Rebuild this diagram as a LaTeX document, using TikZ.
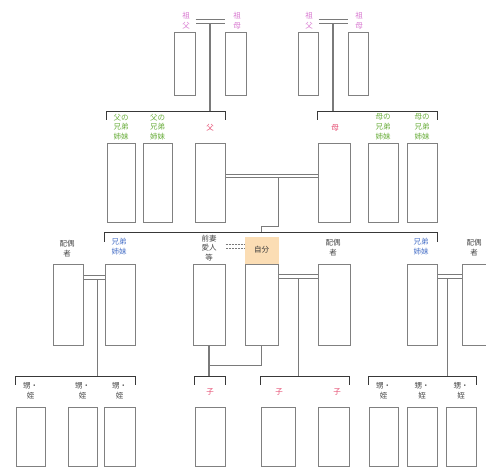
\documentclass[tikz,border=0pt]{standalone}
\usepackage{fontspec}
\setmainfont{Noto Sans CJK JP}
\usetikzlibrary{calc}
\definecolor{boxc}{HTML}{808080}
\definecolor{lnc}{HTML}{7A7A7A}
\definecolor{brkc}{HTML}{383838}
\definecolor{gpc}{HTML}{D877D0}
\definecolor{grc}{HTML}{6AAE3C}
\definecolor{rdc}{HTML}{E5486E}
\definecolor{blc}{HTML}{4A72C8}
\definecolor{txc}{HTML}{4A4A4A}
\definecolor{orbg}{HTML}{FBDDB4}
\tikzset{
  box/.style={draw=boxc, line width=1pt, inner sep=0pt},
  r1/.style={box, minimum height=62pt},
  r2/.style={box, minimum height=79pt},
  r3/.style={box, minimum height=81pt},
  r4/.style={box, minimum height=59pt},
  lbl/.style={align=center, inner sep=0pt, font=\fontsize{7.5}{9.8}\selectfont},
  ln/.style={draw=lnc, line width=1.1pt},
  brk/.style={draw=brkc, line width=1.6pt},
  marr/.style={draw=lnc, line width=0.8pt, double=white, double distance=2.6pt},
  marrd/.style={marr, dash pattern=on 2pt off 1pt},
}
\begin{document}
\begin{tikzpicture}[x=1pt,y=-1pt]
\useasboundingbox[fill=white] (0,0) rectangle (486,468);
% row 1
\node[r1, minimum width=21pt] (gf1) at (184.5,64) {};
\node[r1, minimum width=21pt] (gm1) at (235.5,64) {};
\node[r1, minimum width=20pt] (gf2) at (308,64) {};
\node[r1, minimum width=20pt] (gm2) at (358,64) {};
\node[lbl, text=gpc] (gf1l) at (186,21) {祖\\父};
\node[lbl, text=gpc] (gm1l) at (237,21) {祖\\母};
\node[lbl, text=gpc] (gf2l) at (309,21) {祖\\父};
\node[lbl, text=gpc] (gm2l) at (359,21) {祖\\母};
% row 2
\node[r2, minimum width=28pt] (fs1) at (121,182.5) {};
\node[r2, minimum width=29pt] (fs2) at (157.5,182.5) {};
\node[r2, minimum width=30pt] (f) at (210,182.5) {};
\node[r2, minimum width=32pt] (m) at (334,182.5) {};
\node[r2, minimum width=30pt] (ms1) at (383,182.5) {};
\node[r2, minimum width=30pt] (ms2) at (422,182.5) {};
\node[lbl, text=grc] (fs1l) at (121,127) {父の\\兄弟\\姉妹};
\node[lbl, text=grc] (fs2l) at (157.5,127) {父の\\兄弟\\姉妹};
\node[lbl, text=rdc] (fl) at (210,128) {父};
\node[lbl, text=rdc] (ml) at (335,128) {母};
\node[lbl, text=grc] (ms1l) at (383,127) {母の\\兄弟\\姉妹};
\node[lbl, text=grc] (ms2l) at (422,127) {母の\\兄弟\\姉妹};
% row 3
\node[r3, minimum width=30pt] (sp1) at (68,304.5) {};
\node[r3, minimum width=30pt] (sib1) at (120,304.5) {};
\node[r3, minimum width=32pt] (ex) at (209,304.5) {};
\node[r3, minimum width=33pt] (self) at (261.5,304.5) {};
\node[r3, minimum width=32pt] (sp2) at (334,304.5) {};
\node[r3, minimum width=30pt] (sib2) at (422,304.5) {};
\node[r3, minimum width=30pt] (sp3) at (477,304.5) {};
\node[lbl, text=txc] (sp1l) at (67,249) {配偶\\者};
\node[lbl, text=blc] (sib1l) at (119,247) {兄弟\\姉妹};
\node[lbl, text=txc] (exl) at (209,248) {前妻\\愛人\\等};
\node[lbl, fill=orbg, text=brkc, minimum width=34pt, minimum height=27pt] (selfl) at (261.5,250) {自分};
\node[lbl, text=txc] (sp2l) at (333,248) {配偶\\者};
\node[lbl, text=blc] (sib2l) at (421,247) {兄弟\\姉妹};
\node[lbl, text=txc] (sp3l) at (474,248) {配偶\\者};
% row 4
\node[r4, minimum width=29pt] (n1) at (30.5,436.5) {};
\node[r4, minimum width=29pt] (n2) at (82.5,436.5) {};
\node[r4, minimum width=31pt] (n3) at (119.5,436.5) {};
\node[r4, minimum width=30pt] (c1) at (210,436.5) {};
\node[r4, minimum width=34pt] (c2) at (278,436.5) {};
\node[r4, minimum width=31pt] (c3) at (333.5,436.5) {};
\node[r4, minimum width=29pt] (n4) at (383.5,436.5) {};
\node[r4, minimum width=30pt] (n5) at (422,436.5) {};
\node[r4, minimum width=30pt] (n6) at (461,436.5) {};
\node[lbl, text=txc] (n1l) at (30.5,391) {甥・\\姪};
\node[lbl, text=txc] (n2l) at (82.5,391) {甥・\\姪};
\node[lbl, text=txc] (n3l) at (119.5,391) {甥・\\姪};
\node[lbl, text=rdc] (c1l) at (210,392) {子};
\node[lbl, text=rdc] (c2l) at (279,392) {子};
\node[lbl, text=rdc] (c3l) at (337,392) {子};
\node[lbl, text=txc] (n4l) at (383.5,391) {甥・\\姪};
\node[lbl, text=txc] (n5l) at (422,391) {甥・\\姪};
\node[lbl, text=txc] (n6l) at (461,391) {甥・\\姪};

% bracket coordinates
\coordinate (bL) at ([yshift=31pt]f.north);
\coordinate (bR) at ([yshift=31pt]m.north);
\coordinate (bS) at ([yshift=31pt]self.north);
\coordinate (bN) at ([yshift=30pt]c1.north);

% grandparents couples
\coordinate (m1) at ($(gf1.north east)!.5!(gm1.north west)+(0,-11)$);
\coordinate (m2) at ($(gf2.north east)!.5!(gm2.north west)+(0,-11)$);
\draw[ln] ([yshift=-1.5pt]m1) -- (m1 |- bL);
\draw[ln] ([yshift=-1.5pt]m2) -- (m2 |- bR);
\draw[marr] (gf1.east |- m1) -- (gm1.west |- m1);
\draw[marr] (gf2.east |- m2) -- (gm2.west |- m2);

% row 2 brackets
\draw[brk] ([yshift=23pt]fs1.north west) -- ([yshift=31pt]fs1.north west) -- ([yshift=31pt]f.north east) -- ([yshift=23pt]f.north east);
\draw[brk] ([yshift=23pt]m.north west) -- ([yshift=31pt]m.north west) -- ([yshift=31pt]ms2.north east) -- ([yshift=23pt]ms2.north east);

% parents couple
\coordinate (mp) at ([yshift=6.5pt]f.east);
\coordinate (mpd) at ($(mp)+(53,1.5)$);
\draw[ln] (mpd) -- ($(mpd |- bS)+(0,-6)$) -- ($(self.north |- bS)+(0,-6)$) -- (self.north |- bS);
\draw[marr] (mp) -- (m.west |- mp);

% sibling bracket
\draw[brk] ([yshift=22pt]sib1.north west) -- ([yshift=31pt]sib1.north west) -- ([yshift=31pt]sib2.north east) -- ([yshift=22pt]sib2.north east);

% row 3 couples
\coordinate (ms1) at ([yshift=-14pt]sp1.north east);
\draw[ln] ($(ms1)+(14,1.5)$) -- ($(ms1 |- bN)+(14,0)$);
\draw[marr] (ms1) -- (sib1.west |- ms1);
\draw[marrd] ([yshift=17pt]ex.north east) -- ([yshift=17pt]self.north west);
\coordinate (ms2) at ([yshift=-13pt]self.north east);
\draw[ln] ($(ms2)+(20,1.5)$) -- ($(ms2 |- bN)+(20,0)$);
\draw[marr] (ms2) -- (sp2.west |- ms2);
\coordinate (ms3) at ([yshift=-13pt]sib2.north east);
\draw[ln] ($(ms3)+(10,1.5)$) -- ($(ms3 |- bN)+(10,0)$);
\draw[marr] (ms3) -- (sp3.west |- ms3);

% ex and self children
\draw[ln] (ex.south) -- (ex.south |- bN);
\draw[ln] ($(ex.south)+(0,20)$) -- ($(self.south)+(0,20)$) -- (self.south);

% row 4 brackets
\draw[brk] ([yshift=22pt]n1.north west) -- ([yshift=30pt]n1.north west) -- ([yshift=30pt]n3.north east) -- ([yshift=22pt]n3.north east);
\draw[brk] ([yshift=22pt]c1.north west) -- ([yshift=30pt]c1.north west) -- ([yshift=30pt]c1.north east) -- ([yshift=22pt]c1.north east);
\draw[brk] ([yshift=22pt]c2.north west) -- ([yshift=30pt]c2.north west) -- ([yshift=30pt]c3.north east) -- ([yshift=22pt]c3.north east);
\draw[brk] ([yshift=22pt]n4.north west) -- ([yshift=30pt]n4.north west) -- ([yshift=30pt]n6.north east) -- ([yshift=22pt]n6.north east);
\end{tikzpicture}
\end{document}
